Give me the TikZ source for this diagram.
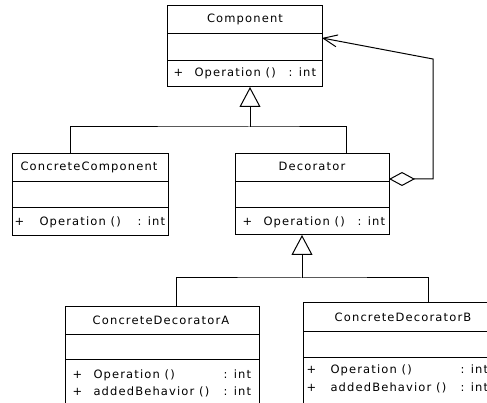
\documentclass[tikz,border=0pt]{standalone}
\usepackage{fontspec}
\newfontfamily\umlfont[LetterSpace=10]{DejaVu Sans}
\usetikzlibrary{arrows.meta}
\begin{document}
\begin{tikzpicture}[x=1pt,y=-1pt,line width=1pt,
  cls/.style={draw,rectangle,inner sep=0pt,outer sep=0pt,anchor=north west},
  txt/.style={font=\umlfont\fontsize{11.5}{13}\selectfont,inner sep=0pt},
  lbl/.style={txt,anchor=base west},
  gen/.style={-{Triangle[open,length=20pt,width=21pt]}},
  agg/.style={{Diamond[open,length=26pt,width=14pt]}-{Straight Barb[length=14pt,width=12pt]}}]
\clip (0,0) rectangle (487,403);
\fill[white] (0,0) rectangle (487,403);

% class boxes and their compartment separators
\node[cls,minimum width=155pt,minimum height=81pt] (comp) at (167,6) {};
\draw (comp.north west) ++(0,28) -- ++(155,0) ++(-155,27) -- ++(155,0);
\node[cls,minimum width=156pt,minimum height=82pt] (cc) at (12,154) {};
\draw (cc.north west) ++(0,28) -- ++(156,0) ++(-156,26) -- ++(156,0);
\node[cls,minimum width=154pt,minimum height=81pt] (dec) at (235,154) {};
\draw (dec.north west) ++(0,28) -- ++(154,0) ++(-154,26) -- ++(154,0);
\node[cls,minimum width=194pt,minimum height=120pt] (cda) at (65,306) {};
\draw (cda.north west) ++(0,28) -- ++(194,0) ++(-194,25) -- ++(194,0);
\node[cls,minimum width=194pt,minimum height=120pt] (cdb) at (303,302) {};
\draw (cdb.north west) ++(0,29) -- ++(194,0) ++(-194,26) -- ++(194,0);

% class names
\node[txt,anchor=base] (compName) at (245,23) {Component};
\node[txt,anchor=base] (ccName) at (89,171) {ConcreteComponent};
\node[txt,anchor=base] (decName) at (312,171) {Decorator};
\node[txt,anchor=base] (cdaName) at (161,324) {ConcreteDecoratorA};
\node[txt,anchor=base] (cdbName) at (403,321) {ConcreteDecoratorB};

% operations
\node[lbl] (compPlus) at (173,77) {+};
\node[lbl] (compOp) at (194,77) {Operation ()};
\node[lbl] (compType) at (288,77) {: int};
\node[lbl] (ccPlus) at (14,226) {+};
\node[lbl] (ccOp) at (39,226) {Operation ()};
\node[lbl] (ccType) at (137,226) {: int};
\node[lbl] (decPlus) at (242,226) {+};
\node[lbl] (decOp) at (263,226) {Operation ()};
\node[lbl] (decType) at (357,226) {: int};
\node[lbl] (cdaPlus1) at (72,378) {+};
\node[lbl] (cdaOp1) at (93,378) {Operation ()};
\node[lbl] (cdaType1) at (223,378) {: int};
\node[lbl] (cdaPlus2) at (72,395) {+};
\node[lbl] (cdaOp2) at (93,395) {addedBehavior ()};
\node[lbl] (cdaType2) at (223,395) {: int};
\node[lbl] (cdbPlus1) at (306,373) {+};
\node[lbl] (cdbOp1) at (330,373) {Operation ()};
\node[lbl] (cdbType1) at (460,373) {: int};
\node[lbl] (cdbPlus2) at (306,391) {+};
\node[lbl] (cdbOp2) at (330,391) {addedBehavior ()};
\node[lbl] (cdbType2) at (460,391) {: int};

% generalization: ConcreteComponent, Decorator -> Component
\path (cc.north west) ++(58,0) coordinate (ccUp);
\path (dec.north west) ++(111,0) coordinate (decUp);
\path (comp.south west) ++(83,0) coordinate (compFoot);
\coordinate (hubA) at (250,127);
\draw (ccUp) |- (hubA) -| (decUp);
\draw[gen] (hubA) -- (compFoot);

% generalization: ConcreteDecoratorA, ConcreteDecoratorB -> Decorator
\path (cda.north west) ++(111,0) coordinate (cdaUp);
\path (cdb.north west) ++(125,0) coordinate (cdbUp);
\path (dec.south west) ++(67,0) coordinate (decFoot);
\coordinate (hubB) at (302,278);
\draw (cdaUp) |- (hubB) -| (cdbUp);
\draw[gen] (hubB) -- (decFoot);

% aggregation: Decorator holds a Component
\path (dec.north east) ++(0,25) coordinate (decSide);
\path (comp.north east) ++(0,32) coordinate (compSide);
\coordinate (bendTop) at (433,59);
\draw[agg] (decSide) -| (bendTop) -- (compSide);
\end{tikzpicture}
\end{document}
